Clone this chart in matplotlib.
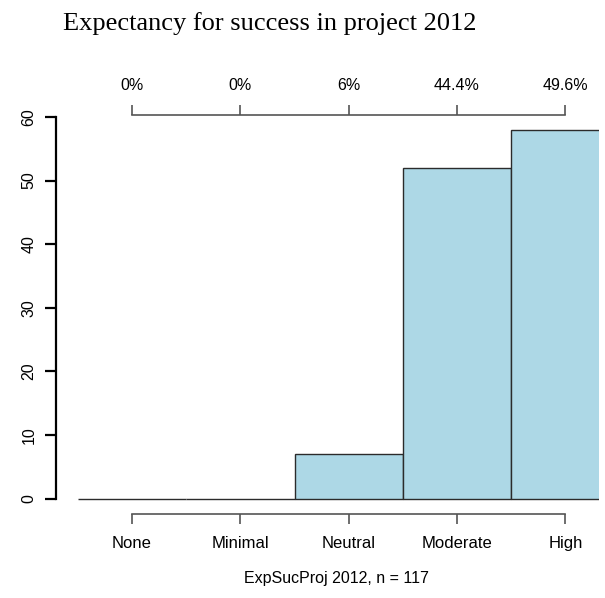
import matplotlib
matplotlib.use("Agg")
import matplotlib.pyplot as plt
import numpy as np

categories = ["None", "Minimal", "Neutral", "Moderate", "High"]
counts = [0, 0, 7, 52, 58]
y_ticks = [0, 10, 20, 30, 40, 50, 60]
title = "Expectancy for success in project 2012"
var_name = "ExpSucProj 2012"

n = sum(counts)


def pct_label(c):
    p = round(100.0 * c / n, 1)
    return f"{p:g}%"


pct_labels = [pct_label(c) for c in counts]

W, H = 605, 598
fig = plt.figure(figsize=(W / 100, H / 100), dpi=100)

# plot region in pixels: y = 0 sits at zero_px, y = 60 at top_px
left_px, right_px = 56, 599
zero_px, top_px = 498.5, 117
px_per_unit = (zero_px - top_px) / 60
y_lo = -1.0  # small margin below zero so the baseline is not clipped
bottom_px = zero_px - y_lo * px_per_unit
ax = fig.add_axes([left_px / W, (H - bottom_px) / H,
                   (right_px - left_px) / W, (bottom_px - top_px) / H])

# category positions: first at 132 px, spacing ~108.35 px
x0_px, step_px = 132, 108.35
ax.set_xlim((left_px - x0_px) / step_px, (right_px - x0_px) / step_px)
ax.set_ylim(y_lo, 60)

pos = np.arange(len(categories))
ax.bar(pos, counts, width=1.0, color="#ADD8E6", edgecolor="#2b2b2b",
       linewidth=1.0, zorder=2)

cat_font = dict(family="Liberation Sans", size=12)
num_font = dict(family="Liberation Sans", size=11.5)
axis_grey = "#555555"

for s in ["top", "right"]:
    ax.spines[s].set_visible(False)
ax.spines["left"].set_bounds(0, 60)
ax.spines["left"].set_linewidth(1.6)
ax.spines["left"].set_color("black")
# bottom axis line about 15.5 px below the zero line
ax.spines["bottom"].set_position(("outward", (15.5 + y_lo * px_per_unit) * 0.72))
ax.spines["bottom"].set_bounds(0, len(categories) - 1)
ax.spines["bottom"].set_color(axis_grey)
ax.spines["bottom"].set_linewidth(1.2)

ax.set_yticks(y_ticks)
ax.set_yticklabels([str(v) for v in y_ticks], rotation=90, va="center",
                   fontdict=num_font)
ax.tick_params(axis="y", length=8, width=1.6, color="black", pad=6)

ax.set_xticks(pos)
ax.set_xticklabels(categories, fontdict=cat_font)
ax.tick_params(axis="x", length=7, width=1.2, color=axis_grey, pad=9)

# percentages along the top
ax2 = ax.twiny()
ax2.set_xlim(ax.get_xlim())
for s in ["bottom", "left", "right"]:
    ax2.spines[s].set_visible(False)
ax2.spines["top"].set_position(("outward", 1.5))
ax2.spines["top"].set_bounds(0, len(categories) - 1)
ax2.spines["top"].set_color(axis_grey)
ax2.spines["top"].set_linewidth(1.2)
ax2.set_xticks(pos)
ax2.set_xticklabels(pct_labels, fontdict=num_font)
ax2.tick_params(axis="x", length=7, width=1.2, color=axis_grey, pad=8.5)

fig.text(336 / W, 1 - 578 / H, f"{var_name}, n = {n}", ha="center",
         va="center", family="Liberation Sans", size=11.5)
fig.text(63 / W, 1 - 30 / H, title, ha="left", va="baseline",
         family="Liberation Serif", size=19)

fig.savefig("out.png", dpi=100)
